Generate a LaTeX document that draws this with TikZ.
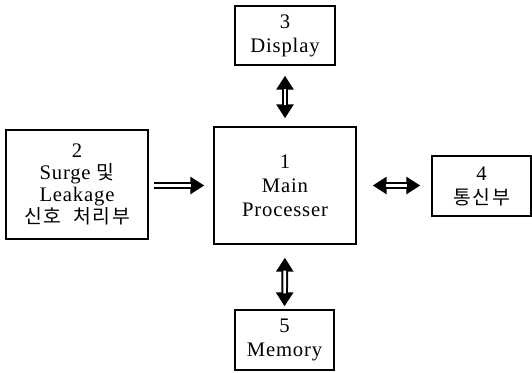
\documentclass[tikz,border=0pt]{standalone}
\usepackage{fontspec}
\setmainfont{Liberation Serif}[LetterSpace=4]
\newfontfamily\kr{Noto Sans CJK KR}[LetterSpace=9]
\usetikzlibrary{arrows.meta}
\newcommand\krtext[1]{{\kr\fontsize{14.5}{16}\selectfont #1}}
\tikzset{
  blk/.style={draw, line width=1pt, align=center, inner sep=0pt,
    font=\fontsize{15.5}{18}\selectfont},
  % double-lined connector: a thick black stroke with tips, hollowed by a white core
  dblshaft/.style={line width=5pt},
  dblcore/.style={draw=white, line width=2pt},
  hd/.tip={Triangle[length=10.5pt 0 0,width=12.5pt 0 0]}
}
\begin{document}
\begin{tikzpicture}[x=0.75pt,y=-0.75pt]
  \useasboundingbox (0,0) rectangle (532,372);

  \node[blk, minimum width=142*0.75pt, minimum height=117*0.75pt] (main) at (285,185.5)
    {1\\Main\\Processer};
  \node[blk, minimum width=100*0.75pt, minimum height=59*0.75pt] (disp) at (285,35.5)
    {3\\Display};
  \node[blk, minimum width=142*0.75pt, minimum height=109*0.75pt,
        font=\fontsize{15.5}{16.5}\selectfont] (surge) at (77,184.5)
    {2\\Surge \krtext{및}\\Leakage\\\krtext{신호\hspace{0.6em}처리부}};
  \node[blk, minimum width=99*0.75pt, minimum height=60*0.75pt] (comm) at (481.5,186)
    {4\\\krtext{통신부}};
  \node[blk, minimum width=99*0.75pt, minimum height=60*0.75pt] (mem) at (284.5,340)
    {5\\Memory};

  % Surge/Leakage -> Main
  \draw[dblshaft, -{hd}, shorten <=5*0.75pt, shorten >=9*0.75pt] (surge.east |- main.west) -- (main.west);
  \draw[dblcore, shorten <=5*0.75pt, shorten >=22*0.75pt] (surge.east |- main.west) -- (main.west);

  % Display <-> Main
  \draw[dblshaft, {hd}-{hd}, shorten <=10*0.75pt, shorten >=8*0.75pt] (disp.south) -- (main.north);
  \draw[dblcore, shorten <=23*0.75pt, shorten >=21*0.75pt] (disp.south) -- (main.north);

  % Main <-> Memory
  \draw[dblshaft, {hd}-{hd}, shorten <=13*0.75pt, shorten >=3*0.75pt] (main.south) -- (mem.north);
  \draw[dblcore, shorten <=26*0.75pt, shorten >=16*0.75pt] (main.south) -- (mem.north);

  % Main <-> communication unit
  \draw[dblshaft, {hd}-{hd}, shorten <=16*0.75pt, shorten >=11*0.75pt] (main.east) -- (main.east -| comm.west);
  \draw[dblcore, shorten <=29*0.75pt, shorten >=24*0.75pt] (main.east) -- (main.east -| comm.west);
\end{tikzpicture}
\end{document}
